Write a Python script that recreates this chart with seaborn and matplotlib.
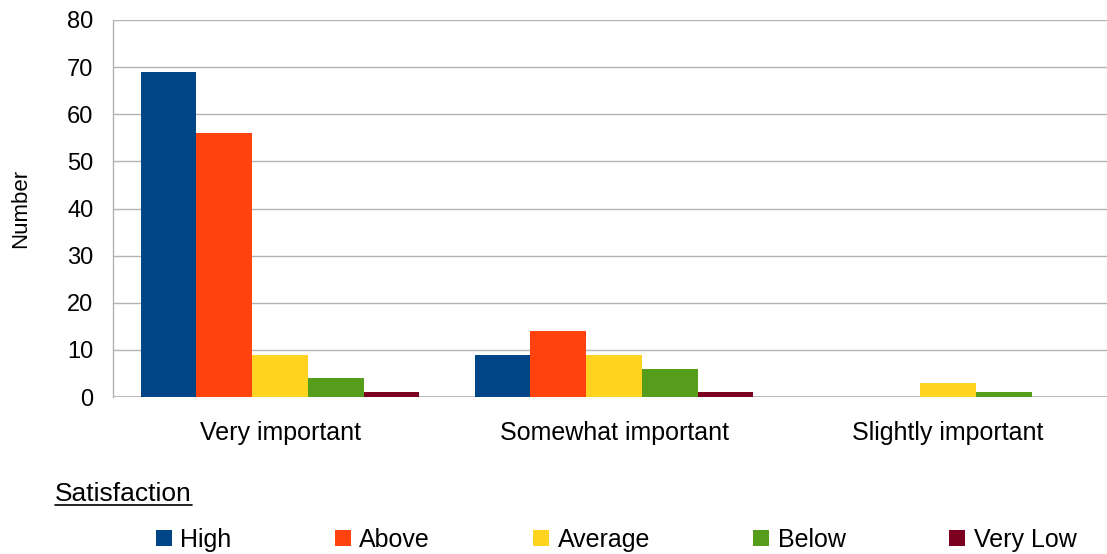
import matplotlib
matplotlib.use("Agg")
import matplotlib.pyplot as plt
from matplotlib.patches import Patch
from matplotlib.lines import Line2D
import seaborn as sns
import pandas as pd

categories = ["Very important", "Somewhat important", "Slightly important"]
levels = ["High", "Above", "Average", "Below", "Very Low"]
high = [69, 9, 0]
above = [56, 14, 0]
average = [9, 9, 3]
below = [4, 6, 1]
very_low = [1, 1, 0]
colors = ["#004586", "#ff420e", "#ffd320", "#579d1c", "#7e0021"]

rows = []
for lvl, vals in zip(levels, [high, above, average, below, very_low]):
    for cat, v in zip(categories, vals):
        rows.append({"Importance": cat, "Satisfaction": lvl, "Number": v})
df = pd.DataFrame(rows)

sns.set_theme(style="white")
plt.rcParams["font.family"] = ["Liberation Sans", "DejaVu Sans"]

fig = plt.figure(figsize=(11.07, 5.54), dpi=100)
ax = fig.add_axes([113 / 1107, (554 - 397) / 554, 1002 / 1107, 377 / 554])

sns.barplot(data=df, x="Importance", y="Number", hue="Satisfaction",
            order=categories, hue_order=levels, palette=colors,
            width=0.835, saturation=1, linewidth=0, ax=ax, legend=False)

grid_c = "#b3b3b3"
ax.set_ylim(0, 80)
ax.set_xlim(-0.5, 2.5)
ax.set_yticks(range(0, 81, 10))
ax.yaxis.grid(True, color=grid_c, linewidth=1)
ax.set_axisbelow(True)
for s in ["top", "right", "bottom"]:
    ax.spines[s].set_visible(False)
ax.spines["left"].set_color(grid_c)
ax.spines["left"].set_linewidth(1)
ax.axhline(0, color=grid_c, linewidth=1.2, zorder=0.5)

ax.tick_params(axis="y", length=10, width=1, labelsize=17, pad=4,
               color=grid_c, labelcolor="black")
ax.set_xticks([0.5, 1.5], minor=True)
ax.tick_params(axis="x", which="minor", length=10, color=grid_c, width=1.2)
ax.tick_params(axis="x", which="major", length=0, labelsize=18, pad=17,
               labelcolor="black")
ax.set_xlabel("")
ax.set_ylabel("Number", fontsize=16, labelpad=26, color="black")

handles = [Patch(facecolor=c, edgecolor="none") for c in colors]
fig.legend(handles, levels, loc="center", bbox_to_anchor=(0.5565, 1 - 540 / 554),
           ncol=5, frameon=False, fontsize=18, handlelength=0.64, handleheight=0.62,
           handletextpad=0.35, columnspacing=4.12, borderpad=0, labelcolor="black")

title = fig.text(55 / 1107, 1 - 494 / 554, "Satisfaction", fontsize=19,
                 va="center", ha="left", color="black")
fig.canvas.draw()
bb = title.get_window_extent().transformed(fig.transFigure.inverted())
fig.add_artist(Line2D([bb.x0, bb.x1], [bb.y0 + 0.002, bb.y0 + 0.002],
                      transform=fig.transFigure, color="black", linewidth=1.2))

fig.savefig("out.png", dpi=100)
